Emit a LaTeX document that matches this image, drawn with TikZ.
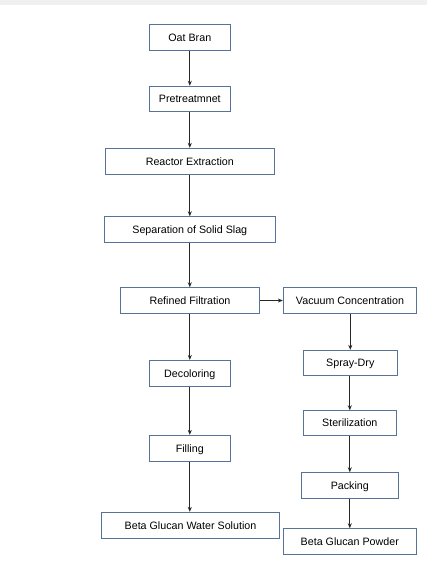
\documentclass[tikz,border=0pt]{standalone}
\usepackage{fontspec}
\setmainfont{Liberation Sans}
\usetikzlibrary{arrows.meta}
\definecolor{boxblue}{RGB}{88,114,152}
\definecolor{topgray}{RGB}{240,240,240}
\begin{document}
\begin{tikzpicture}[x=1pt,y=-1pt,
  procbox/.style={draw=boxblue, line width=0.9pt, fill=white, inner sep=0pt,
    font=\fontsize{10.7}{12}\selectfont, text=black, text depth=0pt, yshift=0pt},
  flow/.style={draw=black!85, line width=0.8pt, -{Stealth[length=5pt,width=4pt]}}]
\useasboundingbox (0,0) rectangle (427,566);
\fill[topgray] (0,0) rectangle (427,5);
\node[procbox, minimum width=81pt, minimum height=26pt] (oat) at (189.8,37.3) {Oat Bran};
\node[procbox, minimum width=81pt, minimum height=25pt] (pre) at (189.8,98.7) {Pretreatmnet};
\node[procbox, minimum width=169pt, minimum height=26pt] (reac) at (189.8,161.3) {Reactor Extraction};
\node[procbox, minimum width=171pt, minimum height=26pt] (sep) at (189.8,229.7) {Separation of Solid Slag};
\node[procbox, minimum width=139.4pt, minimum height=25.6pt] (ref) at (190,300.5) {Refined Filtration};
\node[procbox, minimum width=133.4pt, minimum height=25.6pt] (vac) at (350,300.5) {Vacuum Concentration};
\node[procbox, minimum width=81pt, minimum height=26pt] (dec) at (189.8,373.4) {Decoloring};
\node[procbox, minimum width=81pt, minimum height=26pt] (fil) at (189.8,448.3) {Filling};
\node[procbox, minimum width=177.6pt, minimum height=26pt] (sol) at (190.5,525.3) {Beta Glucan Water Solution};
\node[procbox, minimum width=94pt, minimum height=25pt] (spr) at (350.3,362.8) {Spray-Dry};
\node[procbox, minimum width=93pt, minimum height=24.6pt] (ste) at (349.8,423) {Sterilization};
\node[procbox, minimum width=97pt, minimum height=26pt] (pac) at (349.8,485.7) {Packing};
\node[procbox, minimum width=133pt, minimum height=25.6pt] (pow) at (349.8,541.5) {Beta Glucan Powder};
\draw[flow] (oat.south) -- (pre.north);
\draw[flow] (pre.south) -- (reac.north);
\draw[flow] (reac.south) -- (sep.north);
\draw[flow] (sep.south) -- (ref.north -| sep.south);
\draw[flow] (ref.south -| dec.north) -- (dec.north);
\draw[flow] (dec.south) -- (fil.north);
\draw[flow] (fil.south) -- (sol.north -| fil.south);
\draw[flow] (ref.east) -- (vac.west);
\draw[flow] (vac.south -| spr.north) -- (spr.north);
\draw[flow] (spr.south -| ste.north) -- (ste.north);
\draw[flow] (ste.south) -- (pac.north);
\draw[flow] (pac.south) -- (pow.north);
\end{tikzpicture}
\end{document}
